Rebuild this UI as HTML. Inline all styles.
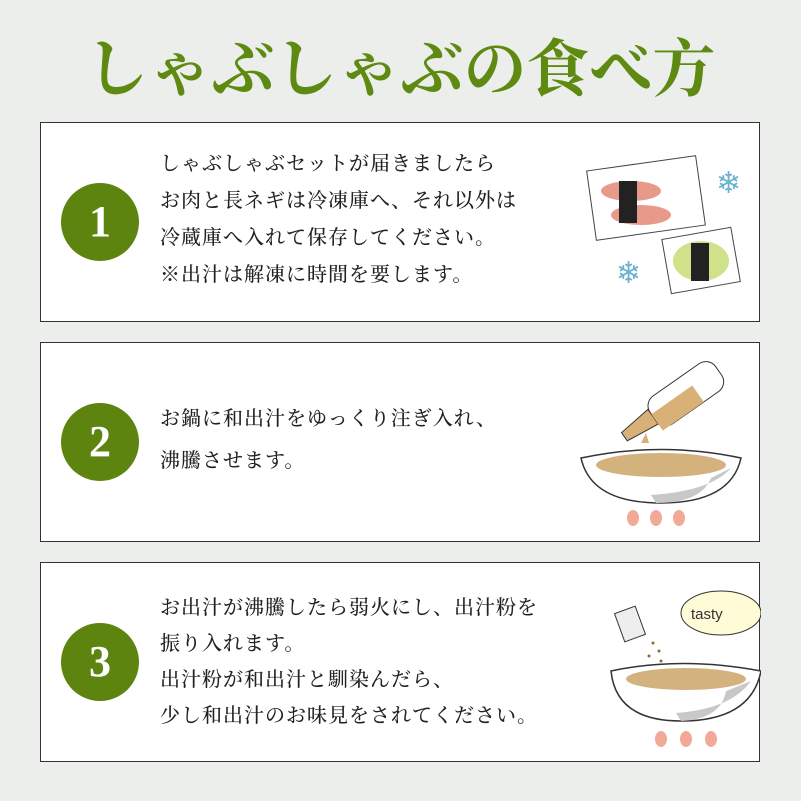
<!DOCTYPE html>
<html><head><meta charset="utf-8"><style>
body{margin:0;width:801px;height:801px;background:#eceeec;position:relative;overflow:hidden;font-family:"Liberation Serif","Noto Serif CJK SC",serif}
.title{position:absolute;left:0;width:801px;top:25px;text-align:center;font-size:63px;font-weight:bold;color:#5f8a12;line-height:90px}
.card{position:absolute;left:40px;width:718px;height:198px;background:#fff;border:1.5px solid #333}
.num{position:absolute;left:20px;top:60px;width:78px;height:78px;border-radius:50%;background:#5e8410;color:#fff;font-size:44px;font-weight:bold;text-align:center;line-height:78px}
.txt{position:absolute;left:119px;font-size:20px;font-weight:500;letter-spacing:1px;color:#222;line-height:37px;white-space:nowrap}
svg{position:absolute}
</style></head><body>
<div class="title">しゃぶしゃぶの食べ方</div>

<div class="card" style="top:122px">
<div class="num">1</div>
<div class="txt" style="top:23px">しゃぶしゃぶセットが届きましたら<br>お肉と長ネギは冷凍庫へ、それ以外は<br>冷蔵庫へ入れて保存してください。<br><span style="line-height:30px">※出汁は解凍に時間を要します。</span></div>
<svg style="left:510px;top:20px" width="200" height="170">
<rect x="40" y="20" width="110" height="70" fill="#fff" stroke="#444" transform="rotate(-8 95 55)"/>
<ellipse cx="80" cy="48" rx="30" ry="10" fill="#e89a8a"/>
<ellipse cx="90" cy="72" rx="30" ry="10" fill="#e89a8a"/>
<rect x="68" y="38" width="18" height="42" fill="#222"/>
<rect x="115" y="90" width="70" height="55" fill="#fff" stroke="#444" transform="rotate(-10 150 117)"/>
<ellipse cx="150" cy="118" rx="28" ry="20" fill="#cfe28a"/>
<rect x="140" y="100" width="18" height="38" fill="#222"/>
<text x="165" y="50" font-size="30" fill="#6ab0d0">❄</text>
<text x="65" y="140" font-size="30" fill="#6ab0d0">❄</text>
</svg>
</div>

<div class="card" style="top:342px">
<div class="num">2</div>
<div class="txt" style="top:55px;line-height:42px">お鍋に和出汁をゆっくり注ぎ入れ、<br>沸騰させます。</div>
<svg style="left:520px;top:10px" width="200" height="180">
<g transform="rotate(-35 120 60)"><rect x="95" y="30" width="80" height="34" rx="12" fill="#fff" stroke="#333"/><path d="M95 38 L60 42 L60 52 L95 56 Z" fill="#d9b178" stroke="#333"/><rect x="95" y="44" width="50" height="20" fill="#d9b178"/></g>
<path d="M85 80 l-5 10 l8 0 z" fill="#d9b178"/>
<path d="M20 105 Q100 88 180 105 Q170 150 100 150 Q30 150 20 105 Z" fill="#fff" stroke="#333" stroke-width="1.5"/>
<path d="M150 125 Q140 150 95 150 L90 142 Q150 138 170 115 Z" fill="#c8c8c8"/>
<ellipse cx="100" cy="112" rx="65" ry="12" fill="#d3b27e"/>
<g fill="#f2a998"><ellipse cx="72" cy="165" rx="6" ry="8"/><ellipse cx="95" cy="165" rx="6" ry="8"/><ellipse cx="118" cy="165" rx="6" ry="8"/></g>
</svg>
</div>

<div class="card" style="top:562px">
<div class="num">3</div>
<div class="txt" style="top:27px;line-height:36px">お出汁が沸騰したら弱火にし、出汁粉を<br>振り入れます。<br>出汁粉が和出汁と馴染んだら、<br>少し和出汁のお味見をされてください。</div>
<svg style="left:520px;top:18px" width="200" height="170">
<ellipse cx="160" cy="32" rx="40" ry="22" fill="#fffbd6" stroke="#333"/>
<text x="130" y="38" font-size="15" font-family="Liberation Sans" fill="#333">tasty</text>
<rect x="58" y="28" width="22" height="30" fill="#eee" stroke="#333" transform="rotate(-20 69 43)"/>
<g fill="#8a6a3a"><circle cx="92" cy="62" r="1.5"/><circle cx="98" cy="70" r="1.5"/><circle cx="88" cy="75" r="1.5"/><circle cx="100" cy="80" r="1.5"/></g>
<path d="M50 90 Q120 75 200 90 Q190 140 120 140 Q55 140 50 90 Z" fill="#fff" stroke="#333" stroke-width="1.5"/>
<path d="M165 110 Q160 138 120 140 L115 132 Q170 128 190 100 Z" fill="#c8c8c8"/>
<ellipse cx="125" cy="98" rx="60" ry="11" fill="#d3b27e"/>
<g fill="#f2a998"><ellipse cx="100" cy="158" rx="6" ry="8"/><ellipse cx="125" cy="158" rx="6" ry="8"/><ellipse cx="150" cy="158" rx="6" ry="8"/></g>
</svg>
</div>
</body></html>
